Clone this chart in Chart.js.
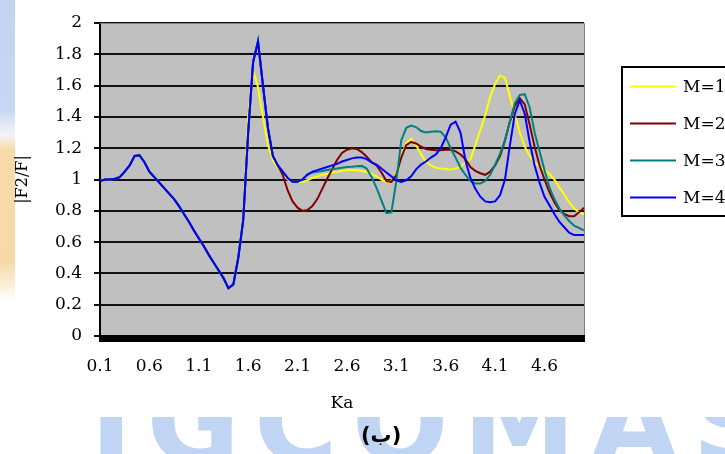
<!DOCTYPE html>
<html>
<head>
<meta charset="utf-8">
<script src="https://cdn.jsdelivr.net/npm/chart.js@4"></script>
<style>
  body { margin: 0; background: #fff; }
  #page { position: relative; width: 725px; height: 454px; overflow: hidden; background: #fff; }
  #strip { position: absolute; left: 0; top: 0; width: 15px; height: 300px;
    background: linear-gradient(to bottom, #c3d3f0 0px, #c8d8f2 110px, #f4f4f8 135px, #f8dba6 150px, #f6d9a4 260px, #fdf3e4 290px, #fff 300px); }
  #mark { position: absolute; left: 90px; top: 356px; font: bold 114px 'DejaVu Sans', sans-serif;
    color: #c0d5f3; letter-spacing: 14px; white-space: nowrap; }
  #sheet { position: absolute; left: 15px; top: 0; width: 710px; height: 417px; background: #fff; }
  #chart { position: absolute; left: 0; top: 0; }
  #caption { position: absolute; left: 361px; top: 423px; font: bold 21px 'DejaVu Sans', sans-serif; color: #000; }
</style>
</head>
<body>
<div id="page">
  <div id="strip"></div>
  <div id="mark">IGCOMAS</div>
  <div id="sheet"></div>
  <canvas id="chart" width="725" height="454"></canvas>
  <div id="caption">(ب)</div>
</div>
<script>
// Ka samples
const kaValues = [
  0.1, 0.15, 0.2, 0.25, 0.3, 0.35, 0.4, 0.45, 0.5, 0.55,
  0.6, 0.65, 0.7, 0.75, 0.8, 0.85, 0.9, 0.95, 1.0, 1.05,
  1.1, 1.15, 1.2, 1.25, 1.3, 1.35, 1.4, 1.45, 1.5, 1.55,
  1.6, 1.65, 1.7, 1.75, 1.8, 1.85, 1.9, 1.95, 2.0, 2.05,
  2.1, 2.15, 2.2, 2.25, 2.3, 2.35, 2.4, 2.45, 2.5, 2.55,
  2.6, 2.65, 2.7, 2.75, 2.8, 2.85, 2.9, 2.95, 3.0, 3.05,
  3.1, 3.15, 3.2, 3.25, 3.3, 3.35, 3.4, 3.45, 3.5, 3.55,
  3.6, 3.65, 3.7, 3.75, 3.8, 3.85, 3.9, 3.95, 4.0, 4.05,
  4.1, 4.15, 4.2, 4.25, 4.3, 4.35, 4.4, 4.45, 4.5, 4.55,
  4.6, 4.65, 4.7, 4.75, 4.8, 4.85, 4.9, 4.95, 5.0
];

const m1 = [
  0.99, 1.0, 1.0, 1.005, 1.015, 1.05, 1.09, 1.15, 1.155, 1.11,
  1.05, 1.015, 0.98, 0.945, 0.91, 0.875, 0.83, 0.78, 0.73, 0.675,
  0.625, 0.575, 0.52, 0.47, 0.42, 0.37, 0.305, 0.33, 0.50, 0.74,
  1.40, 1.70, 1.59, 1.40, 1.22, 1.125, 1.075, 1.035, 1.0, 0.985,
  0.985, 0.985, 0.995, 1.01, 1.02, 1.03, 1.035, 1.045, 1.05, 1.055,
  1.06, 1.06, 1.06, 1.055, 1.05, 1.035, 1.02, 1.0, 0.985, 0.99,
  1.04, 1.15, 1.23, 1.26, 1.22, 1.16, 1.115, 1.09, 1.075, 1.07,
  1.067, 1.064, 1.07, 1.08, 1.11, 1.13, 1.22, 1.315, 1.41, 1.527,
  1.61, 1.665, 1.65, 1.53, 1.41, 1.30, 1.21, 1.15, 1.11, 1.085,
  1.06, 1.035, 1.0, 0.95, 0.905, 0.855, 0.815, 0.79, 0.78
];

const m2 = [
  0.99, 1.0, 1.0, 1.005, 1.015, 1.05, 1.09, 1.15, 1.155, 1.11,
  1.05, 1.015, 0.98, 0.945, 0.91, 0.875, 0.83, 0.78, 0.73, 0.675,
  0.625, 0.575, 0.52, 0.47, 0.42, 0.37, 0.305, 0.33, 0.50, 0.74,
  1.30, 1.75, 1.88, 1.60, 1.33, 1.15, 1.09, 1.03, 0.93, 0.86,
  0.82, 0.80, 0.805, 0.83, 0.875, 0.94, 1.005, 1.065, 1.125, 1.17,
  1.19, 1.20, 1.195, 1.175, 1.145, 1.11, 1.09, 1.045, 0.99, 0.985,
  1.03, 1.14, 1.22, 1.24, 1.23, 1.21, 1.195, 1.19, 1.187, 1.187,
  1.19, 1.19, 1.18, 1.16, 1.13, 1.08, 1.055, 1.04, 1.03, 1.05,
  1.09, 1.15, 1.25, 1.37, 1.47, 1.52, 1.48, 1.35, 1.21, 1.09,
  1.0, 0.92, 0.855, 0.805, 0.78, 0.765, 0.765, 0.79, 0.82
];

const m3 = [
  0.99, 1.0, 1.0, 1.005, 1.015, 1.05, 1.09, 1.15, 1.155, 1.11,
  1.05, 1.015, 0.98, 0.945, 0.91, 0.875, 0.83, 0.78, 0.73, 0.675,
  0.625, 0.575, 0.52, 0.47, 0.42, 0.37, 0.305, 0.33, 0.50, 0.74,
  1.30, 1.75, 1.89, 1.60, 1.33, 1.15, 1.09, 1.05, 1.01, 0.985,
  0.985, 1.0, 1.035, 1.045, 1.05, 1.055, 1.06, 1.065, 1.07, 1.075,
  1.08, 1.082, 1.085, 1.087, 1.07, 1.015, 0.945, 0.865, 0.785, 0.79,
  0.99, 1.25, 1.33, 1.345, 1.335, 1.31, 1.30, 1.305, 1.308, 1.305,
  1.27, 1.20, 1.14, 1.075, 1.03, 0.99, 0.975, 0.975, 0.99, 1.03,
  1.095, 1.165, 1.25, 1.37, 1.49, 1.54, 1.545, 1.46, 1.30, 1.18,
  1.06, 0.95, 0.875, 0.815, 0.77, 0.735, 0.705, 0.69, 0.675
];

const m4 = [
  0.99, 1.0, 1.0, 1.005, 1.015, 1.05, 1.09, 1.15, 1.155, 1.11,
  1.05, 1.015, 0.98, 0.945, 0.91, 0.875, 0.83, 0.78, 0.73, 0.675,
  0.625, 0.575, 0.52, 0.47, 0.42, 0.37, 0.305, 0.33, 0.50, 0.74,
  1.30, 1.75, 1.88, 1.60, 1.33, 1.15, 1.09, 1.05, 1.01, 0.985,
  0.985, 1.0, 1.03, 1.05, 1.06, 1.07, 1.08, 1.09, 1.10, 1.115,
  1.125, 1.135, 1.14, 1.14, 1.13, 1.11, 1.095, 1.07, 1.045, 1.02,
  0.995, 0.985, 0.995, 1.02, 1.065, 1.095, 1.115, 1.14, 1.16, 1.20,
  1.27, 1.35, 1.37, 1.30, 1.12, 1.01, 0.94, 0.89, 0.86, 0.855,
  0.86, 0.9, 1.0, 1.22, 1.42, 1.505, 1.42, 1.24, 1.09, 0.98,
  0.89, 0.835, 0.78, 0.73, 0.695, 0.66, 0.645, 0.645, 0.645
];

const seriesNames = ['M=1', 'M=2', 'M=3', 'M=4'];
const seriesColors = ['#ffff00', '#800000', '#008080', '#0000ff'];
const xTickLabels = [0.1, 0.6, 1.1, 1.6, 2.1, 2.6, 3.1, 3.6, 4.1, 4.6];

const serif = "'DejaVu Serif', serif";

// grey plot background, thick floor bar, grey frame on top/right
const plotFrame = {
  id: 'plotFrame',
  beforeDraw(chart) {
    const { ctx, chartArea: a } = chart;
    ctx.save();
    ctx.fillStyle = '#c0c0c0';
    ctx.fillRect(a.left, a.top, a.right - a.left, a.bottom - a.top);
    ctx.restore();
  },
  afterDatasetsDraw(chart) {
    const { ctx, chartArea: a } = chart;
    ctx.save();
    ctx.strokeStyle = '#808080';
    ctx.lineWidth = 1;
    ctx.beginPath();
    ctx.moveTo(a.left, a.top + 0.5);
    ctx.lineTo(a.right + 0.5, a.top + 0.5);
    ctx.lineTo(a.right + 0.5, a.bottom);
    ctx.stroke();
    ctx.fillStyle = '#000';
    ctx.fillRect(a.left - 1, a.bottom - 1, a.right - a.left + 2, 7);
    ctx.restore();
  }
};

// boxed legend at the right, partly cut by the page edge
const boxLegend = {
  id: 'boxLegend',
  afterDraw(chart) {
    const ctx = chart.ctx;
    const left = 622, top = 67, rowH = 37.3, firstRow = 85.5;
    ctx.save();
    ctx.fillStyle = '#fff';
    ctx.fillRect(left, top, 120, 149);
    ctx.strokeStyle = '#000';
    ctx.lineWidth = 2;
    ctx.strokeRect(left, top, 120, 149);
    ctx.font = '17px ' + serif;
    ctx.textBaseline = 'middle';
    chart.data.datasets.forEach((ds, i) => {
      const y = Math.round(firstRow + i * rowH) + 0.5;
      ctx.strokeStyle = ds.borderColor;
      ctx.lineWidth = 2;
      ctx.beginPath();
      ctx.moveTo(630, y);
      ctx.lineTo(676, y);
      ctx.stroke();
      ctx.fillStyle = '#000';
      ctx.fillText(ds.label, 683, y + 1);
    });
    ctx.restore();
  }
};

const seriesData = [m1, m2, m3, m4];

new Chart(document.getElementById('chart'), {
  type: 'line',
  data: {
    labels: kaValues,
    datasets: seriesData.map((vals, i) => ({
      label: seriesNames[i],
      data: vals,
      borderColor: seriesColors[i],
      borderWidth: 2,
      pointRadius: 0,
      tension: 0,
      fill: false,
      order: seriesData.length - i
    }))
  },
  options: {
    responsive: false,
    animation: false,
    layout: { padding: { left: 0, top: 23, right: 141, bottom: 0 } },
    plugins: {
      legend: { display: false },
      tooltip: { enabled: false }
    },
    scales: {
      x: {
        type: 'linear',
        min: 0.1,
        max: 5.0,
        afterFit: s => { s.height = 118; },
        afterBuildTicks: s => { s.ticks = xTickLabels.map(v => ({ value: v })); },
        grid: { display: false, drawTicks: false },
        border: { display: false },
        ticks: {
          autoSkip: false,
          maxRotation: 0,
          padding: 20,
          color: '#000',
          font: { family: serif, size: 17 },
          callback: v => v.toFixed(1)
        },
        title: {
          display: true,
          text: 'Ka',
          color: '#000',
          font: { family: serif, size: 17 },
          padding: { top: 0, bottom: 40 }
        }
      },
      y: {
        min: 0,
        max: 2,
        afterFit: s => { s.width = 100; },
        grid: { color: '#111', lineWidth: 2, tickLength: 6 },
        border: { display: true, color: '#000', width: 2 },
        ticks: {
          stepSize: 0.2,
          padding: 12,
          color: '#000',
          font: { family: serif, size: 17 },
          callback: v => String(+v.toFixed(1))
        },
        title: {
          display: true,
          text: '|F2/F|',
          color: '#000',
          font: { family: serif, size: 16 },
          padding: { top: 13, bottom: 0 }
        }
      }
    }
  },
  plugins: [plotFrame, boxLegend]
});
</script>
</body>
</html>
